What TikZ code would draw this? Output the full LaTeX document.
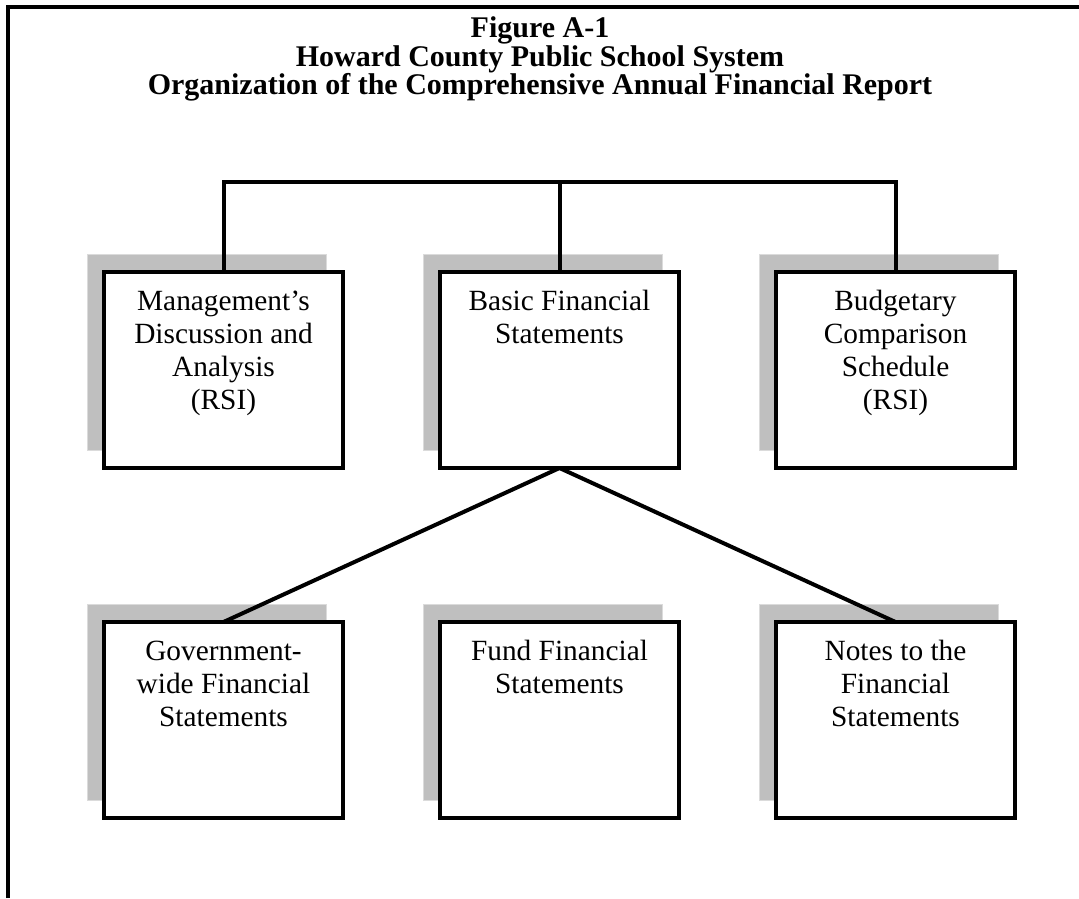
\documentclass[tikz,border=0pt]{standalone}
\usepackage{fontspec}
\setmainfont{Liberation Serif}
\usetikzlibrary{shadows}
\newcommand{\paneltext}[1]{\parbox[c][88.2pt][t]{107.5pt}{\centering\rule{0pt}{17.5pt}#1}}
\tikzset{
  panel/.style={draw, line width=1.8pt, fill=white, inner sep=0pt, outer sep=0pt,
    font=\fontsize{13.2}{14.8}\selectfont,
    copy shadow={shadow xshift=-7.4pt, shadow yshift=7.8pt, fill=gray!50, draw=gray!28, line width=0.6pt}},
  link/.style={line width=1.8pt},
  heading/.style={align=center, font=\bfseries\fontsize{13.5}{12.9}\selectfont}
}
\begin{document}
\begin{tikzpicture}[x=0.45pt, y=-0.45pt]
  \useasboundingbox (0,0) rectangle (1079,898);
  \draw[line width=1.8pt] (8,898) |- (1079,7);
  \node[heading] (head) at (540,59) {Figure A-1\\Howard County Public School System\\Organization of the Comprehensive Annual Financial Report};
  \node[panel] (mda) at (223.5,370) {\paneltext{Management’s\\Discussion and\\Analysis\\(RSI)}};
  \node[panel] (bfs) at (559.5,370) {\paneltext{Basic Financial\\Statements}};
  \node[panel] (bcs) at (895.5,370) {\paneltext{Budgetary\\Comparison\\Schedule\\(RSI)}};
  \node[panel] (gwf) at (223.5,720) {\paneltext{Government-\\wide Financial\\Statements}};
  \node[panel] (fund) at (559.5,720) {\paneltext{Fund Financial\\Statements}};
  \node[panel] (notes) at (895.5,720) {\paneltext{Notes to the\\Financial\\Statements}};
  \coordinate (bar) at (559.5,182);
  \begin{scope}[link]
    \draw (mda.north) -- (mda.north |- bar) -- (bcs.north |- bar) -- (bcs.north);
    \draw (bar) -- (bfs.north);
    \draw (bfs.south) -- (gwf.north);
    \draw (bfs.south) -- (notes.north);
  \end{scope}
\end{tikzpicture}
\end{document}
